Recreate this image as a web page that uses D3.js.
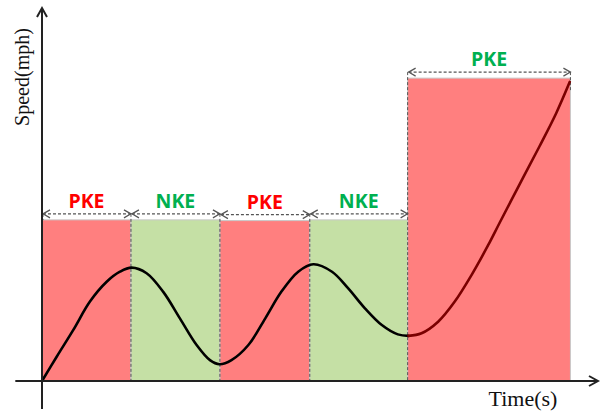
<!DOCTYPE html>
<html><head><meta charset="utf-8">
<script src="https://cdn.jsdelivr.net/npm/d3@7"></script>
<style>html,body{margin:0;padding:0;background:#fff;}</style>
</head><body>
<svg id="chart" width="600" height="411"></svg>
<script>
// ---- data ----
const segLabels = ["PKE", "NKE", "PKE", "NKE", "PKE"];
const segStart  = [0, 10, 20, 30.1, 41.1];
const segEnd    = [10, 20, 30.1, 41.1, 59.4];
const segTop    = [43.2, 43.2, 43.0, 43.2, 81.2];
const timeVals  = [0, 1.65, 3.52, 5.39, 7.27, 8.76, 10.08, 11.76, 13.63, 15.5, 17.38, 18.88, 19.95,
                   21.3, 23.2, 25.1, 26.9, 28.8, 30.5, 32.6, 34.4, 36.3, 38.2, 40.0, 41.2,
                   42.66, 44.53, 46.4, 48.28, 50.15, 51.46, 53.7, 55.9, 57.8, 59.33];
const speedVals = [0, 6.5, 13.7, 21.3, 26.6, 29.3, 30.4, 28.9, 23.9, 16.8, 9.65, 5.6, 4.5,
                   5.6, 9.65, 16.8, 23.9, 29.3, 31.3, 29.3, 24.9, 19.5, 15.0, 12.5, 12.1,
                   12.8, 15.9, 21.3, 28.4, 36.4, 42.5, 52.8, 62.8, 71.8, 80.2];
const xTitle = "Time(s)";
const yTitle = "Speed(mph)";

// ---- scales ----
const svg = d3.select("#chart");
const x = d3.scaleLinear().domain([0, 62.5]).range([42, 598]);
const y = d3.scaleLinear().domain([0, 100]).range([381, 8]);

const RED = "#FF7F7F", GREEN = "#C5E0A5", LRED = "#FF0000", LGREEN = "#00B050", DASH = "#555";

const segs = segLabels.map((l, i) => ({label: l, s: segStart[i], e: segEnd[i], top: segTop[i], i}));

// bars
svg.append("g").selectAll("rect").data(segs).join("rect")
  .attr("x", d => x(d.s)).attr("y", d => y(d.top))
  .attr("width", d => x(d.e) - x(d.s)).attr("height", d => y(0) - y(d.top))
  .attr("fill", d => d.label === "PKE" ? RED : GREEN)
  .attr("stroke", "#c8c8c8").attr("stroke-width", 1);

// dashed vertical separators
const g = svg.append("g");
segs.forEach((d, i) => {
  const arrowY = y(d.top) - 6;
  const nextArrowY = i < segs.length - 1 ? y(segs[i + 1].top) - 6 : null;
  const topY = nextArrowY === null ? arrowY : Math.min(arrowY, nextArrowY);
  const botY = nextArrowY === null ? y(d.top) + 14 : y(0);
  g.append("line").attr("x1", x(d.e)).attr("x2", x(d.e)).attr("y1", topY).attr("y2", botY)
    .attr("stroke", DASH).attr("stroke-width", 1).attr("stroke-dasharray", "3,2");
  if (i === 0) {
    g.append("line").attr("x1", x(d.s) + 1).attr("x2", x(d.s) + 1).attr("y1", arrowY).attr("y2", y(d.top))
      .attr("stroke", DASH).attr("stroke-width", 1).attr("stroke-dasharray", "3,2");
  }
});

// dimension arrows + labels
segs.forEach((d, i) => {
  const ay = y(d.top) - 6;
  const x0 = x(d.s) + 1, x1 = x(d.e);
  g.append("line").attr("x1", x0).attr("x2", x1).attr("y1", ay).attr("y2", ay)
    .attr("stroke", DASH).attr("stroke-width", 1.2).attr("stroke-dasharray", "3,2");
  const hs = 7, hw = 4;
  g.append("path").attr("d", `M${x0 + hs},${ay - hw}L${x0},${ay}L${x0 + hs},${ay + hw}`)
    .attr("fill", "none").attr("stroke", DASH).attr("stroke-width", 1.2);
  g.append("path").attr("d", `M${x1 - hs},${ay - hw}L${x1},${ay}L${x1 - hs},${ay + hw}`)
    .attr("fill", "none").attr("stroke", DASH).attr("stroke-width", 1.2);
  g.append("text").attr("x", (x(d.s) + x(d.e)) / 2).attr("y", y(d.top) - 12)
    .attr("text-anchor", "middle")
    .attr("font-family", "'Open Sans', sans-serif").attr("font-weight", "bold").attr("font-size", 19.5)
    .attr("fill", (d.label === "NKE" || i === segs.length - 1) ? LGREEN : LRED)
    .text(d.label);
});

// curve
const pts = timeVals.map((t, i) => [t, speedVals[i]]);
const line = d3.line().x(d => x(d[0])).y(d => y(d[1])).curve(d3.curveCatmullRom.alpha(0.5));
const split = timeVals.indexOf(41.2);
svg.append("path").attr("d", line(pts.slice(0, split + 1)))
  .attr("fill", "none").attr("stroke", "#000").attr("stroke-width", 2.6).attr("stroke-linecap", "round");
svg.append("path").attr("d", line(pts.slice(split)))
  .attr("fill", "none").attr("stroke", "#7A0000").attr("stroke-width", 2.6).attr("stroke-linecap", "round");

// axes
const ax = svg.append("g").attr("stroke", "#222").attr("stroke-width", 2).attr("fill", "none");
ax.append("line").attr("x1", x(-3)).attr("x2", x(62.5)).attr("y1", y(0)).attr("y2", y(0));
ax.append("line").attr("x1", x(0)).attr("x2", x(0)).attr("y1", y(-7.5)).attr("y2", y(100));
ax.append("path").attr("d", `M${x(62.5) - 9},${y(0) - 5}L${x(62.5)},${y(0)}L${x(62.5) - 9},${y(0) + 5}`);
ax.append("path").attr("d", `M${x(0) - 5},${y(100) + 9}L${x(0)},${y(100)}L${x(0) + 5},${y(100) + 9}`);

svg.append("text").attr("x", 523).attr("y", 406).attr("text-anchor", "middle")
  .attr("font-family", "'Liberation Serif', 'Times New Roman', serif").attr("font-size", 22)
  .attr("fill", "#111").text(xTitle);
svg.append("text").attr("transform", "translate(29,77) rotate(-90)").attr("text-anchor", "middle")
  .attr("font-family", "'Liberation Serif', 'Times New Roman', serif").attr("font-size", 20)
  .attr("fill", "#111").text(yTitle);
</script>
</body></html>
